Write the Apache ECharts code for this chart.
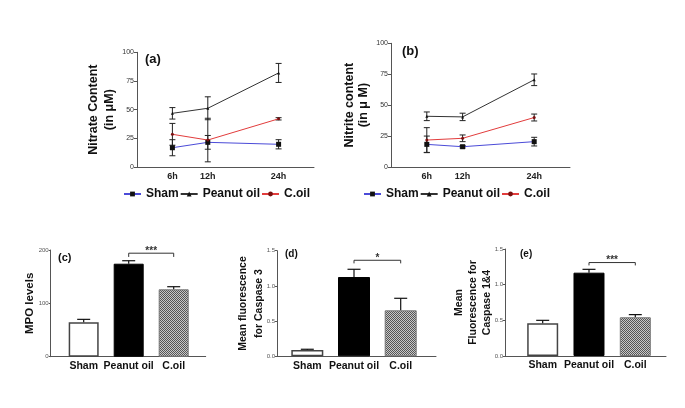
<!DOCTYPE html>
<html><head><meta charset="utf-8">
<script src="https://cdn.jsdelivr.net/npm/echarts@6/dist/echarts.min.js"></script>
<style>html,body{margin:0;padding:0;background:#fff}#c{width:685px;height:408px}</style>
</head><body><div id="c"></div>
<script>
// ---------- data ----------
const hours = [6, 12, 24];
const hourLabels = ['6h', '12h', '24h'];
const seriesNames = ['Sham', 'Peanut oil', 'C.oil'];
// (a) Nitrate content (µM)
const nitrateSham = [16.8, 21.5, 19.8];
const nitrateShamErr = [7, 6, 4];
const nitratePeanut = [46.8, 51.2, 82];
const nitratePeanutErr = [5, 10, 8.3];
const nitrateCoil = [28.5, 23.5, 42];
const nitrateCoilErr = [9.5, 19, 1];
// (b) Nitrite content (µM)
const nitriteSham = [18.3, 16.4, 20.5];
const nitriteShamErr = [6.7, 1, 3.5];
const nitritePeanut = [41, 40.5, 70.5];
const nitritePeanutErr = [3.5, 3, 4.7];
const nitriteCoil = [21.8, 23.2, 40];
const nitriteCoilErr = [10, 2.7, 2.8];
// bar panels
const groups = ['Sham', 'Peanut oil', 'C.oil'];
const mpo = [64.5, 174.3, 126.3];
const mpoErr = [5.5, 5.6, 4.9];
const casp3 = [0.09, 1.126, 0.653];
const casp3Err = [0.01, 0.11, 0.171];
const casp14 = [0.458, 1.168, 0.543];
const casp14Err = [0.042, 0.047, 0.037];
const sigLabels = ['***', '*', '***'];
const sigLevel = [194, 1.364, 1.31];
const sigDrop = [7, 0.044, 0.04];

// ---------- styles ----------
const FONT = 'Liberation Sans, Arial, sans-serif';
const AX = '#555';
const pc = document.createElement('canvas');
pc.width = 2; pc.height = 2;
(function(){const g=pc.getContext('2d');g.fillStyle='#c8c8c8';g.fillRect(0,0,2,2);g.fillStyle='#555';g.fillRect(0,0,1,1);g.fillRect(1,1,1,1);})();
const barStyles = [
  {color:'#fff', borderColor:'#444', borderWidth:1.5},
  {color:'#000', borderColor:'#000', borderWidth:1},
  {color:{image:pc, repeat:'repeat'}, borderColor:'#777', borderWidth:1}
];
const lineColors = ['#4b4bd8', '#333', '#e23c3c'];
const symColors = ['#111', '#111', '#7a1010'];
const symbols = ['rect', 'triangle', 'circle'];
const symSizes = [5, 3, 3];

// ---------- layout ----------
const grids = [
  {left:137, top:52.3, width:177, height:114.7},
  {left:391, top:43.3, width:179, height:123.7},
  {left:50.7, top:250, width:155, height:106.7},
  {left:277, top:250.7, width:159, height:105.6},
  {left:505, top:249, width:161, height:107}
];
const barX = [[0.267, 3.711], [0.351, 3.756], [0.186, 3.663]];
const barW = [30, 32, 31];

function yAxisBase(o){
  return Object.assign({
    type:'value', nameLocation:'middle', nameRotate:90, nameMoveOverlap:false,
    nameTextStyle:{fontFamily:FONT, fontWeight:'bold', color:'#111'},
    axisLine:{show:true, lineStyle:{color:AX, width:1}},
    axisTick:{show:true, length:3, lineStyle:{color:AX}},
    splitLine:{show:false},
    axisLabel:{fontFamily:FONT, color:'#444', margin:3}
  }, o);
}

const xAxes = [], yAxes = [], series = [];
// line panels
[0,1].forEach(k=>{
  xAxes.push({gridIndex:k, type:'value', min:0, max:30,
    axisLine:{show:true, onZero:false, lineStyle:{color:AX}},
    axisTick:{show:false}, splitLine:{show:false},
    axisLabel:{customValues:hours, fontFamily:FONT, fontWeight:'bold', fontSize:9, color:'#222', margin:5,
      formatter:v=>hourLabels[hours.indexOf(v)]}
  });
});
yAxes.push(yAxisBase({gridIndex:0, min:0, max:100, interval:25, name:'Nitrate Content\n(in \u03bcM)', nameGap:19,
  nameTextStyle:{fontFamily:FONT, fontWeight:'bold', color:'#111', fontSize:12.5, lineHeight:16},
  axisLabel:{fontFamily:FONT, color:'#333', margin:3, fontSize:7}}));
yAxes.push(yAxisBase({gridIndex:1, min:0, max:100, interval:25, name:'Nitrite content\n(in \u03bc M)', nameGap:20,
  nameTextStyle:{fontFamily:FONT, fontWeight:'bold', color:'#111', fontSize:12.5, lineHeight:14},
  axisLabel:{fontFamily:FONT, color:'#333', margin:3, fontSize:7}}));

function lineErr(params, api){
  const x=api.value(0), y=api.value(1), e=api.value(2);
  const t=api.coord([x,y+e]), b=api.coord([x,y-e]);
  const w=3, st={stroke:'#222', lineWidth:1};
  return {type:'group', children:[
    {type:'line', shape:{x1:t[0],y1:t[1],x2:b[0],y2:b[1]}, style:st},
    {type:'line', shape:{x1:t[0]-w,y1:t[1],x2:t[0]+w,y2:t[1]}, style:st},
    {type:'line', shape:{x1:b[0]-w,y1:b[1],x2:b[0]+w,y2:b[1]}, style:st}
  ]};
}
const linePanels = [
  [[nitrateSham,nitrateShamErr],[nitratePeanut,nitratePeanutErr],[nitrateCoil,nitrateCoilErr]],
  [[nitriteSham,nitriteShamErr],[nitritePeanut,nitritePeanutErr],[nitriteCoil,nitriteCoilErr]]
];
linePanels.forEach((panel,k)=>{
  panel.forEach(([vals,errs],s)=>{
    series.push({type:'custom', name:'err'+k+s, xAxisIndex:k, yAxisIndex:k, renderItem:lineErr,
      encode:{x:0,y:1}, silent:true, z:1,
      data:hours.map((h,i)=>[h, vals[i], errs[i]])});
  });
  panel.forEach(([vals],s)=>{
    series.push({type:'line', name:seriesNames[s], xAxisIndex:k, yAxisIndex:k, z:3,
      symbol:symbols[s], symbolSize:symSizes[s], showSymbol:true,
      lineStyle:{color:lineColors[s], width:1},
      itemStyle:{color:symColors[s]},
      data:hours.map((h,i)=>[h, vals[i]])});
  });
});

// bar panels
const barPanels = [[mpo,mpoErr],[casp3,casp3Err],[casp14,casp14Err]];
const barY = [
  {min:0, max:200, interval:100, name:'MPO levels', nameGap:13.5, fs:11.5, lh:14, fmt:v=>String(v)},
  {min:0, max:1.5, interval:0.5, name:'Mean fluorescence\nfor Caspase 3', nameGap:9.5, fs:10.5, lh:16, fmt:v=>v.toFixed(1)},
  {min:0, max:1.5, interval:0.5, name:'Mean\nFluorescence for\nCaspase 1&4', nameGap:11, fs:10.5, lh:14, fmt:v=>v.toFixed(1)}
];
function barErr(params, api){
  const x=api.value(0), y=api.value(1), e=api.value(2);
  const b=api.coord([x,y]), t=api.coord([x,y+e]);
  const w=6.5, st={stroke:'#111', lineWidth:1.2};
  return {type:'group', children:[
    {type:'line', shape:{x1:b[0],y1:b[1],x2:t[0],y2:t[1]}, style:st},
    {type:'line', shape:{x1:t[0]-w,y1:t[1],x2:t[0]+w,y2:t[1]}, style:st}
  ]};
}
function sigRender(params, api){
  const x1=api.value(0), x2=api.value(1), y=api.value(2), d=api.value(3);
  const a=api.coord([x1,y-d]), b=api.coord([x1,y]), c=api.coord([x2,y]), e=api.coord([x2,y-d]);
  const lbl = sigLabels[params.seriesIndex - sigStart];
  return {type:'group', children:[
    {type:'polyline', shape:{points:[a,b,c,e]}, style:{stroke:'#333', lineWidth:1, fill:null}},
    {type:'text', style:{text:lbl, x:(b[0]+c[0])/2, y:b[1]+3, align:'center', verticalAlign:'bottom',
      font:'bold 10px '+FONT, fill:'#333'}}
  ]};
}
let sigStart = 0;
barPanels.forEach(([vals,errs],j)=>{
  const k = j+2;
  xAxes.push({gridIndex:k, type:'value', min:barX[j][0], max:barX[j][1],
    axisLine:{show:true, onZero:false, lineStyle:{color:AX}},
    axisTick:{show:false}, splitLine:{show:false},
    axisLabel:{customValues:[1,2,3], fontFamily:FONT, fontWeight:'bold', fontSize:10.5, color:'#111', margin:4,
      formatter:v=>groups[Math.round(v)-1]}
  });
  const by = barY[j];
  yAxes.push(yAxisBase({gridIndex:k, min:by.min, max:by.max, interval:by.interval, name:by.name, nameGap:by.nameGap,
    nameTextStyle:{fontFamily:FONT, fontWeight:'bold', color:'#111', fontSize:by.fs, lineHeight:by.lh},
    axisTick:{show:true, length:2, lineStyle:{color:AX}},
    axisLabel:{fontFamily:FONT, color:'#555', margin:2, fontSize:6, formatter:by.fmt}}));
  series.push({type:'bar', name:'bar'+j, xAxisIndex:k, yAxisIndex:k, barWidth:barW[j], z:2,
    data:groups.map((g,i)=>({value:[i+1, vals[i]], itemStyle:barStyles[i]}))});
  series.push({type:'custom', name:'berr'+j, xAxisIndex:k, yAxisIndex:k, renderItem:barErr, z:3,
    encode:{x:0,y:1}, silent:true,
    data:groups.map((g,i)=>[i+1, vals[i], errs[i]])});
});
sigStart = series.length;
barPanels.forEach((p,j)=>{
  const k=j+2;
  series.push({type:'custom', name:'sig'+j, xAxisIndex:k, yAxisIndex:k, renderItem:sigRender, z:4,
    encode:{x:[0,1],y:2}, silent:true, clip:false,
    data:[[2, 3, sigLevel[j], sigDrop[j]]]});
});

const panelTags = [
  {text:'(a)', left:145, top:53, fs:13},
  {text:'(b)', left:402, top:45, fs:13},
  {text:'(c)', left:58, top:252, fs:11},
  {text:'(d)', left:285, top:249.5, fs:10},
  {text:'(e)', left:520, top:249.5, fs:10}
];
const legendBase = {data:seriesNames, orient:'horizontal', itemWidth:17, itemHeight:6, itemGap:1,
  textStyle:{fontFamily:FONT, fontWeight:'bold', fontSize:12, color:'#111'}, padding:0, selectedMode:false};

const chart = echarts.init(document.getElementById('c'), null, {renderer:'canvas'});
chart.setOption({
  backgroundColor:'#fff',
  animation:false,
  title: panelTags.map(t=>({text:t.text, left:t.left, top:t.top, padding:0,
    textStyle:{fontFamily:FONT, fontWeight:'bold', fontSize:t.fs, color:'#111'}})),
  legend:[
    Object.assign({left:123, top:188}, legendBase),
    Object.assign({left:363, top:188}, legendBase)
  ],
  grid: grids.map(g=>Object.assign({containLabel:false}, g)),
  xAxis: xAxes,
  yAxis: yAxes,
  series: series
});
</script></body></html>
